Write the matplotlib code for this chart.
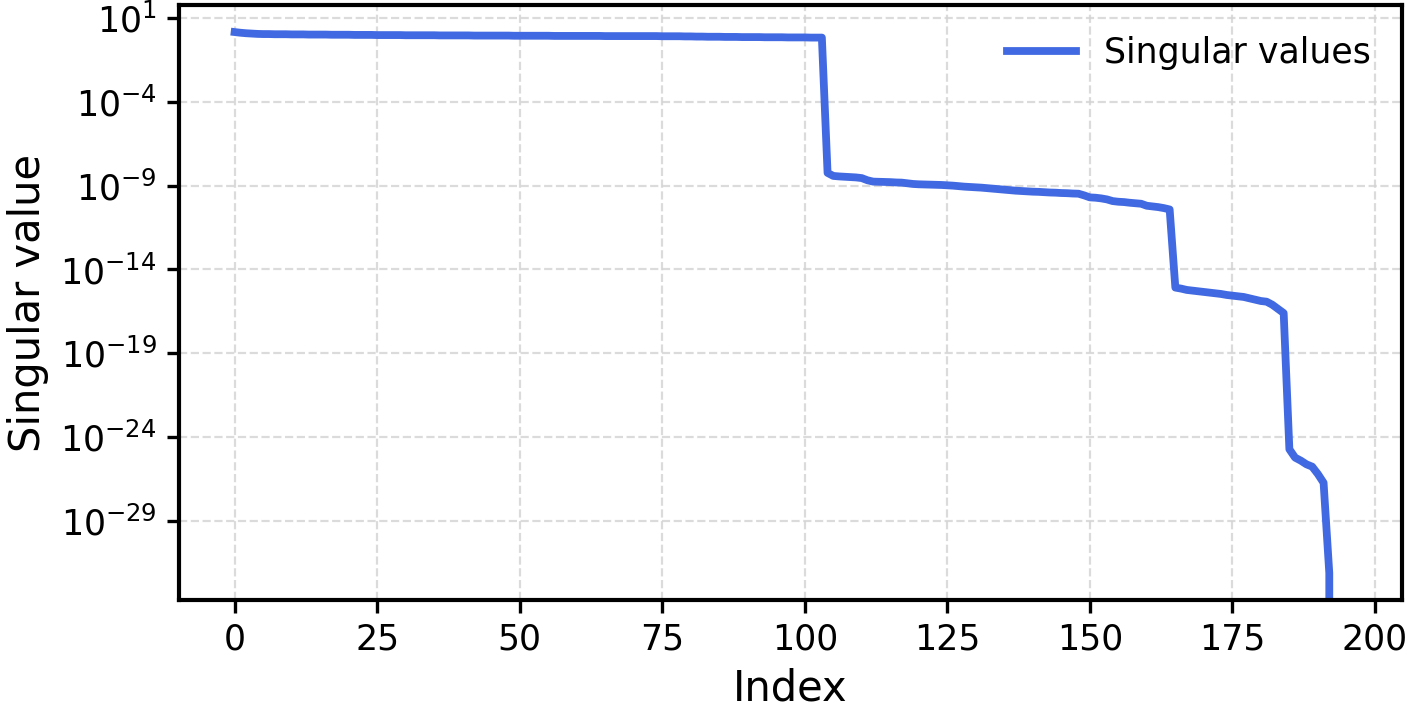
import numpy as np
import matplotlib.pyplot as plt
from matplotlib.ticker import NullLocator

# log10 of the singular values
# index 0..103
exp_block1 = [
    0.16, 0.12, 0.09, 0.07, 0.05, 0.04, 0.04, 0.03, 0.03, 0.03,
    0.02, 0.02, 0.02, 0.01, 0.01, 0.01, 0.01, 0.00, 0.00, 0.00,
    0.00, -0.01, -0.01, -0.01, -0.01, -0.02, -0.02, -0.02, -0.02, -0.02,
    -0.03, -0.03, -0.03, -0.03, -0.03, -0.03, -0.04, -0.04, -0.04, -0.04,
    -0.04, -0.04, -0.05, -0.05, -0.05, -0.05, -0.05, -0.05, -0.05, -0.06,
    -0.06, -0.06, -0.06, -0.06, -0.06, -0.06, -0.07, -0.07, -0.07, -0.07,
    -0.07, -0.07, -0.07, -0.07, -0.07, -0.08, -0.08, -0.08, -0.08, -0.08,
    -0.08, -0.08, -0.08, -0.08, -0.08, -0.09, -0.09, -0.09, -0.09, -0.10,
    -0.10, -0.11, -0.11, -0.12, -0.12, -0.12, -0.13, -0.13, -0.13, -0.14,
    -0.14, -0.14, -0.14, -0.15, -0.15, -0.15, -0.15, -0.16, -0.16, -0.16,
    -0.16, -0.17, -0.17, -0.17,
]
# index 104..164
exp_block2 = [
    -8.24, -8.42, -8.45, -8.47, -8.49, -8.51, -8.55, -8.68, -8.76, -8.77,
    -8.78, -8.79, -8.81, -8.82, -8.86, -8.90, -8.92, -8.93, -8.94, -8.95,
    -8.96, -8.98, -9.00, -9.03, -9.06, -9.08, -9.10, -9.12, -9.15, -9.18,
    -9.21, -9.24, -9.27, -9.30, -9.32, -9.34, -9.36, -9.37, -9.39, -9.41,
    -9.42, -9.44, -9.45, -9.47, -9.48, -9.58, -9.70, -9.72, -9.76, -9.82,
    -9.92, -9.96, -9.98, -10.02, -10.05, -10.08, -10.20, -10.24, -10.28, -10.34,
    -10.42,
]
# index 165..192
exp_block3 = [
    -15.08, -15.14, -15.22, -15.26, -15.30, -15.34, -15.38, -15.42, -15.46, -15.52,
    -15.56, -15.60, -15.64, -15.72, -15.80, -15.88, -15.92, -16.10, -16.35, -16.60,
    -24.72, -25.22, -25.40, -25.62, -25.76, -26.20, -26.72, -32.10,
]
n_zero = 3  # trailing zero singular values (index 193..195)

sv = np.concatenate([10.0 ** np.array(exp_block1 + exp_block2 + exp_block3),
                     np.zeros(n_zero)])
idx = np.arange(len(sv))

fig, ax = plt.subplots(figsize=(7.06, 3.58), dpi=200)
fig.subplots_adjust(left=0.1268, right=0.9929, top=0.993, bottom=0.162)

ax.plot(idx, sv, color='royalblue', lw=2.8, label='Singular values')
ax.set_yscale('log')

ax.set_yticks([10.0 ** e for e in [1, -4, -9, -14, -19, -24, -29]])
ax.yaxis.set_minor_locator(NullLocator())
ax.set_xticks([0, 25, 50, 75, 100, 125, 150, 175, 200])

ax.set_xlabel('Index', fontsize=15)
ax.set_ylabel('Singular value', fontsize=15)
ax.tick_params(axis='both', labelsize=12.5, width=1.2, length=4.5)
for s in ax.spines.values():
    s.set_linewidth(1.5)

ax.grid(True, linestyle='--', color='lightgray', alpha=0.8, linewidth=0.8)
ax.legend(loc='upper right', frameon=False, fontsize=12.5)

plt.savefig('out.png', dpi=200)
